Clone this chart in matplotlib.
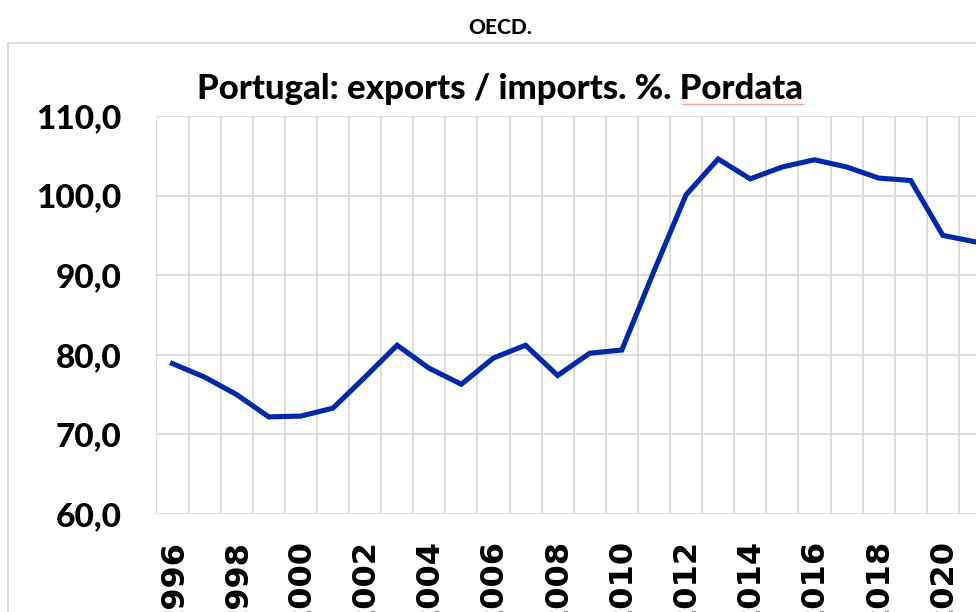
import matplotlib.pyplot as plt
from matplotlib.patches import Rectangle
from matplotlib.lines import Line2D
import numpy as np

years = list(range(1996, 2022))
ratio = [78.9, 77.2, 75.0, 72.2, 72.3, 73.3, 77.2, 81.2, 78.3, 76.3,
         79.6, 81.2, 77.4, 80.2, 80.6, 90.5, 100.1, 104.6, 102.1, 103.6,
         104.5, 103.6, 102.2, 101.9, 95.0, 94.2]
ytick_vals = [60, 70, 80, 90, 100, 110]
xtick_years = list(range(1996, 2021, 2))

W, H = 976, 612
fig = plt.figure(figsize=(W / 100, H / 100), dpi=100)

# chart box (light grey border, runs off the right/bottom edges of the crop)
fig.patches.append(Rectangle((7.5 / W, -0.1), 1.2, (H - 43) / H + 0.1,
                             transform=fig.transFigure, fill=False,
                             edgecolor='#d9d9d9', linewidth=1.3))

# axes: 32.1 px per year, left boundary at x=156
left = 156.4 / W
bottom = (H - 514) / H
height = 398 / H
width = 26 * 32.1 / W
ax = fig.add_axes([left, bottom, width, height])

ax.plot(years, ratio, color='#0029a8', linewidth=3.7, solid_joinstyle='miter')

ax.set_xlim(1995.5, 2021.5)
ax.set_ylim(60, 110)

ax.set_yticks(ytick_vals)
ax.set_yticklabels(["{:.1f}".format(v).replace('.', ',') for v in ytick_vals],
                   fontfamily='Lato', fontweight='black', fontsize=24)
ax.set_xticks(xtick_years)
ax.set_xticklabels([str(y) for y in xtick_years], rotation=90, va='top',
                   fontfamily='DejaVu Sans', fontweight='bold', fontsize=23)
ax.set_xticks(np.arange(1995.5, 2022, 1), minor=True)

ax.tick_params(axis='y', length=0, pad=25)
ax.tick_params(axis='x', which='both', length=0, pad=18)

ax.grid(False)
ax.grid(True, axis='y', which='major', color='#d9d9d9', linewidth=1.3)
ax.grid(True, axis='x', which='minor', color='#d9d9d9', linewidth=1.3)
for s in ax.spines.values():
    s.set_visible(False)
ax.set_axisbelow(True)

fig.text(500 / W, 1 - 27 / H, "OECD.", ha='center', va='center',
         fontfamily='Lato', fontweight='black', fontsize=15)
fig.text(500 / W, 1 - 89 / H, "Portugal: exports / imports. %. Pordata",
         ha='center', va='center', fontfamily='Lato', fontweight='black',
         fontsize=25)
# spell-check underline below "Pordata"
fig.lines.append(Line2D([682 / W, 803 / W], [1 - 104 / H, 1 - 104 / H],
                        transform=fig.transFigure, color='#f4a0a0',
                        linewidth=1.0))

fig.savefig("out.png", dpi=100)
